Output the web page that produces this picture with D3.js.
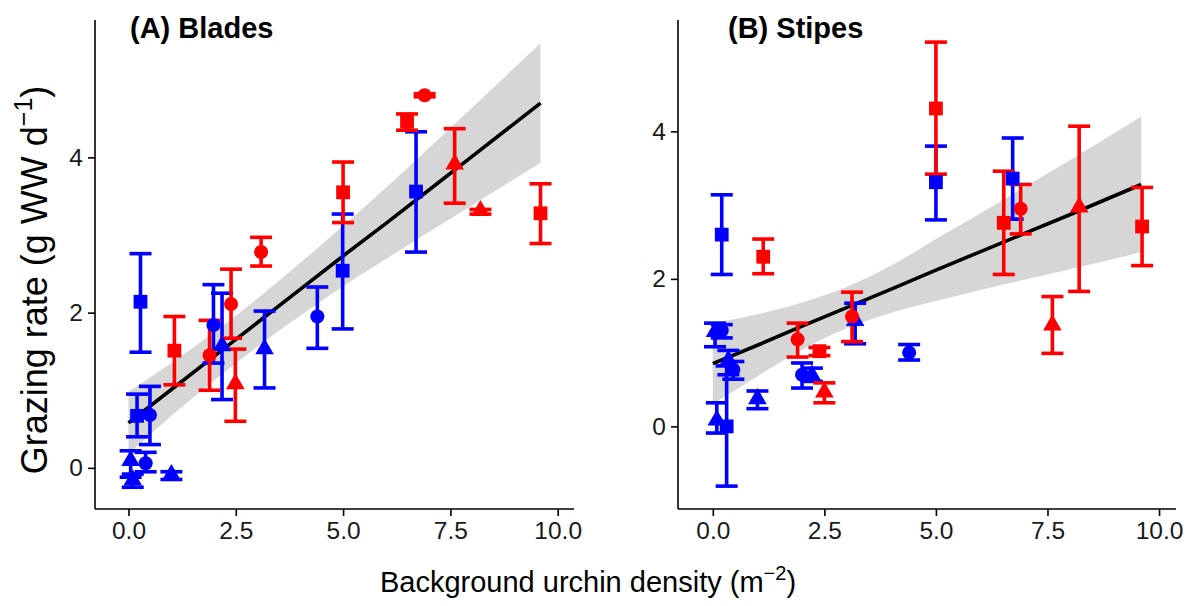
<!DOCTYPE html>
<html>
<head>
<meta charset="UTF-8">
<script src="https://cdn.jsdelivr.net/npm/d3@7"></script>
<style>
  body { margin: 0; background: #fff; }
  text { font-family: Arial, "Liberation Sans", sans-serif; }
  .axis path, .axis line { stroke: #000; stroke-width: 1.6px; }
</style>
</head>
<body>
<script>
var svgWidth = 1189, svgHeight = 606;

// ---- panel A: blades ----
var bladesX     = [0.05, 0.10, 1.00, 2.18, 3.17,  0.40, 0.50, 1.98, 4.40,  0.20, 0.28, 4.99, 6.70,  1.07, 5.00, 6.49, 9.60,  1.89, 2.39, 3.09, 6.90,  2.49, 7.60, 8.20];
var bladesY     = [0.08, -0.17, -0.10, 1.56, 1.52,  0.06, 0.68, 1.84, 1.95,  0.67, 2.14, 2.54, 3.56,  1.51, 3.55, 4.46, 3.28,  1.45, 2.11, 2.78, 4.80,  1.07, 3.90, 3.30];
var bladesLo    = [-0.12, -0.25, -0.15, 0.88, 1.03,  -0.05, 0.30, 1.35, 1.54,  0.40, 1.49, 1.79, 2.78,  1.07, 3.16, 4.35, 2.89,  1.00, 1.67, 2.60, 4.78,  0.60, 3.41, 3.27];
var bladesHi    = [0.22, -0.08, -0.05, 2.25, 2.02,  0.20, 1.05, 2.36, 2.33,  0.95, 2.76, 3.27, 4.33,  1.95, 3.94, 4.56, 3.66,  1.90, 2.56, 2.97, 4.82,  1.53, 4.37, 3.33];
var bladesColor = ["blue","blue","blue","blue","blue", "blue","blue","blue","blue", "blue","blue","blue","blue", "red","red","red","red", "red","red","red","red", "red","red","red"];
var bladesShape = ["tri","tri","tri","tri","tri", "circ","circ","circ","circ", "sq","sq","sq","sq", "sq","sq","sq","sq", "circ","circ","circ","circ", "tri","tri","tri"];

// fitted line and 95% band
var bladesFitX  = [0, 1, 2, 3, 4, 5, 6, 7, 8, 9.6];
var bladesFitY  = [0.58, 1.01, 1.44, 1.87, 2.30, 2.73, 3.15, 3.58, 4.01, 4.70];
var bladesBandLo = [0.18, 0.67, 1.13, 1.56, 1.96, 2.34, 2.69, 3.04, 3.38, 3.93];
var bladesBandHi = [0.98, 1.35, 1.75, 2.18, 2.64, 3.12, 3.61, 4.12, 4.64, 5.47];

// ---- panel B: stipes ----
var stipesX     = [0.05, 0.09, 0.35, 1.00, 2.22, 3.19,  0.20, 0.46, 2.00, 4.40,  0.20, 0.31, 5.00, 6.72,  1.13, 2.39, 5.00, 6.52, 9.62,  1.90, 3.12, 6.90,  2.50, 7.61, 8.21];
var stipesY     = [1.27, 0.07, 0.88, 0.36, 0.68, 1.42,  1.30, 0.77, 0.70, 1.00,  2.60, 0.00, 3.31, 3.36,  2.30, 1.02, 4.31, 2.76, 2.71,  1.18, 1.49, 2.95,  0.45, 1.36, 2.96];
var stipesLo    = [1.08, -0.09, 0.70, 0.24, 0.61, 1.12,  1.20, 0.64, 0.52, 0.90,  2.06, -0.81, 2.80, 2.81,  2.07, 0.96, 3.42, 2.06, 2.18,  0.94, 1.15, 2.61,  0.32, 0.99, 1.83];
var stipesHi    = [1.40, 0.32, 1.03, 0.48, 0.79, 1.67,  1.38, 0.88, 0.86, 1.11,  3.14, 0.82, 3.80, 3.91,  2.54, 1.07, 5.21, 3.46, 3.24,  1.40, 1.82, 3.28,  0.59, 1.76, 4.07];
var stipesColor = ["blue","blue","blue","blue","blue","blue", "blue","blue","blue","blue", "blue","blue","blue","blue", "red","red","red","red","red", "red","red","red", "red","red","red"];
var stipesShape = ["tri","tri","tri","tri","tri","tri", "circ","circ","circ","circ", "sq","sq","sq","sq", "sq","sq","sq","sq","sq", "circ","circ","circ", "tri","tri","tri"];

var stipesFitX  = [0, 1, 2, 3, 4, 5, 6, 7, 8, 9.6];
var stipesFitY  = [0.85, 1.10, 1.36, 1.61, 1.86, 2.12, 2.37, 2.62, 2.87, 3.28];
var stipesBandLo = [0.30, 0.68, 1.04, 1.33, 1.54, 1.70, 1.85, 1.99, 2.13, 2.36];
var stipesBandHi = [1.40, 1.52, 1.68, 1.89, 2.18, 2.54, 2.89, 3.25, 3.61, 4.20];

var xTicks = [0, 2.5, 5, 7.5, 10];
var yTicks = [0, 2, 4];
var colors = { red: "#ff0000", blue: "#0000ff" };

var svg = d3.select("body").append("svg")
  .attr("width", svgWidth)
  .attr("height", svgHeight);

function drawPanel(opt) {
  var x = d3.scaleLinear().domain([-0.78, 10.38]).range([opt.left, opt.right]);
  var y = d3.scaleLinear().domain(opt.yDomain).range([509, 20]);

  var g = svg.append("g");

  // band + fit
  var band = opt.fitX.map(function(v, i) { return { x: v, lo: opt.bandLo[i], hi: opt.bandHi[i] }; });
  g.append("path")
    .datum(band)
    .attr("fill", "#d6d6d6")
    .attr("d", d3.area()
      .curve(d3.curveMonotoneX)
      .x(function(d) { return x(d.x); })
      .y0(function(d) { return y(d.lo); })
      .y1(function(d) { return y(d.hi); }));

  var fit = opt.fitX.map(function(v, i) { return [v, opt.fitY[i]]; });
  g.append("path")
    .datum(fit)
    .attr("fill", "none")
    .attr("stroke", "#000")
    .attr("stroke-width", 3.6)
    .attr("d", d3.line()
      .x(function(d) { return x(d[0]); })
      .y(function(d) { return y(d[1]); }));

  var pts = opt.xs.map(function(v, i) {
    return { x: v, y: opt.ys[i], lo: opt.lo[i], hi: opt.hi[i], c: colors[opt.col[i]], s: opt.shape[i] };
  });

  // error bars
  var eb = g.selectAll(".eb").data(pts).enter().append("g")
    .attr("stroke", function(d) { return d.c; })
    .attr("stroke-width", 3.6);
  var capW = 11;
  eb.append("line")
    .attr("x1", function(d) { return x(d.x); })
    .attr("x2", function(d) { return x(d.x); })
    .attr("y1", function(d) { return y(d.lo); })
    .attr("y2", function(d) { return y(d.hi); });
  eb.append("line")
    .attr("x1", function(d) { return x(d.x) - capW; })
    .attr("x2", function(d) { return x(d.x) + capW; })
    .attr("y1", function(d) { return y(d.lo); })
    .attr("y2", function(d) { return y(d.lo); });
  eb.append("line")
    .attr("x1", function(d) { return x(d.x) - capW; })
    .attr("x2", function(d) { return x(d.x) + capW; })
    .attr("y1", function(d) { return y(d.hi); })
    .attr("y2", function(d) { return y(d.hi); });

  // points
  var symType = { tri: d3.symbolTriangle, circ: d3.symbolCircle, sq: d3.symbolSquare };
  var symSize = { tri: 150, circ: 155, sq: 190 };
  g.selectAll(".pt").data(pts).enter().append("path")
    .attr("transform", function(d) {
      var dy = d.s == "tri" ? -1 : 0;
      return "translate(" + x(d.x) + "," + (y(d.y) + dy) + ")";
    })
    .attr("d", function(d) { return d3.symbol().type(symType[d.s]).size(symSize[d.s])(); })
    .attr("fill", function(d) { return d.c; });

  // axes
  var gx = g.append("g").attr("class", "axis")
    .attr("transform", "translate(0,509)")
    .call(d3.axisBottom(x).tickValues(xTicks).tickFormat(d3.format(".1f")).tickSizeOuter(0).tickSize(7).tickPadding(6));
  gx.select(".domain").attr("d", "M" + opt.left + ",0H" + opt.right);

  var gy = g.append("g").attr("class", "axis")
    .attr("transform", "translate(" + opt.left + ",0)")
    .call(d3.axisLeft(y).tickValues(yTicks).tickFormat(d3.format("d")).tickSizeOuter(0).tickSize(7).tickPadding(5));
  gy.select(".domain").attr("d", "M0,20V509");

  g.selectAll(".axis text")
    .attr("font-family", "Arial, 'Liberation Sans', sans-serif")
    .attr("font-size", 24.5)
    .attr("fill", "#1a1a1a");

  g.append("text")
    .attr("x", opt.titleX)
    .attr("y", 38)
    .attr("font-size", 29)
    .attr("font-weight", "bold")
    .text(opt.title);
}

drawPanel({
  left: 95, right: 574, yDomain: [-0.53, 5.77],
  xs: bladesX, ys: bladesY, lo: bladesLo, hi: bladesHi, col: bladesColor, shape: bladesShape,
  fitX: bladesFitX, fitY: bladesFitY, bandLo: bladesBandLo, bandHi: bladesBandHi,
  title: "(A) Blades", titleX: 130
});

drawPanel({
  left: 678, right: 1176, yDomain: [-1.12, 5.51],
  xs: stipesX, ys: stipesY, lo: stipesLo, hi: stipesHi, col: stipesColor, shape: stipesShape,
  fitX: stipesFitX, fitY: stipesFitY, bandLo: stipesBandLo, bandHi: stipesBandHi,
  title: "(B) Stipes", titleX: 728
});

// axis titles
var yl = svg.append("text")
  .attr("transform", "translate(47,280) rotate(-90)")
  .attr("text-anchor", "middle")
  .attr("font-size", 36)
  .attr("fill", "#000");
yl.append("tspan").text("Grazing rate (g WW d");
yl.append("tspan").attr("font-size", 25).attr("dy", -15).text("\u22121");
yl.append("tspan").attr("dy", 15).text(")");

var xl = svg.append("text")
  .attr("x", 588)
  .attr("y", 592)
  .attr("text-anchor", "middle")
  .attr("font-size", 29)
  .attr("fill", "#000");
xl.append("tspan").text("Background urchin density (m");
xl.append("tspan").attr("font-size", 20).attr("dy", -12).text("\u22122");
xl.append("tspan").attr("dy", 12).text(")");
</script>
</body>
</html>
